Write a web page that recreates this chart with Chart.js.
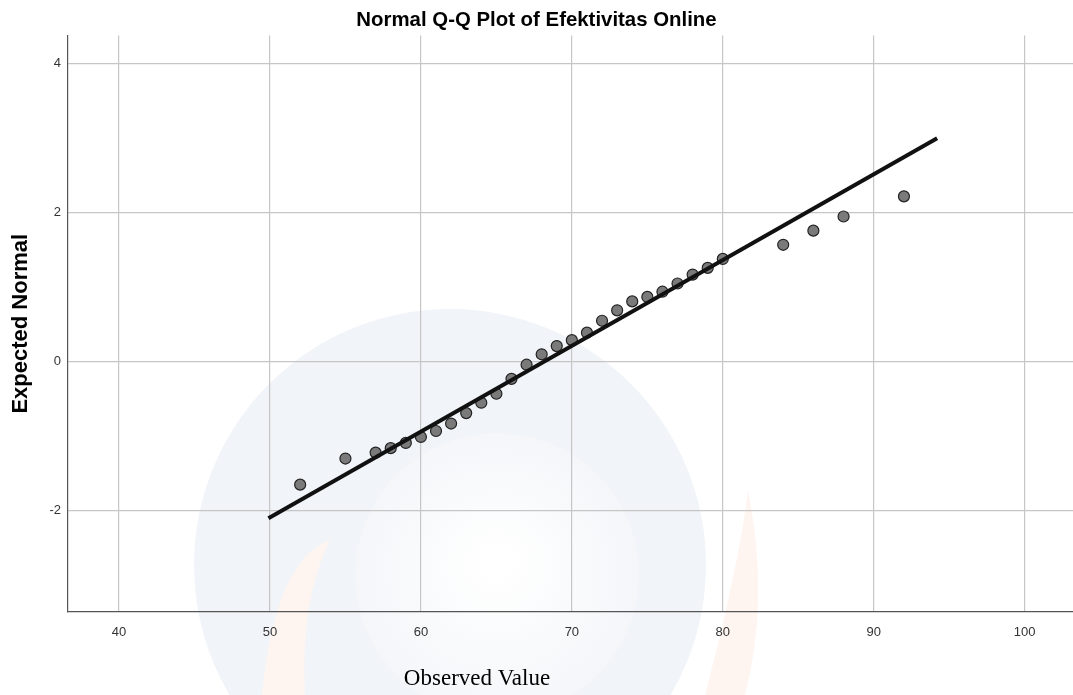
<!DOCTYPE html>
<html>
<head>
<meta charset="utf-8">
<script src="https://cdn.jsdelivr.net/npm/chart.js@4"></script>
<style>
  html, body { margin: 0; padding: 0; background: #fff; }
  #wrap { width: 1073px; height: 695px; }
</style>
</head>
<body>
<div id="wrap"><canvas id="qq" width="1073" height="695"></canvas></div>
<script>
// observed scores and their expected normal values
const observed = [52, 55, 57, 58, 59, 60, 61, 62, 63, 64, 65, 66, 67, 68, 69, 70,
  71, 72, 73, 74, 75, 76, 77, 78, 79, 80, 84, 86, 88, 92];
const expected = [-1.65, -1.30, -1.22, -1.16, -1.09, -1.01, -0.93, -0.83, -0.69, -0.55,
  -0.43, -0.23, -0.04, 0.10, 0.21, 0.29, 0.39, 0.55, 0.69, 0.81, 0.87, 0.94, 1.05,
  1.17, 1.26, 1.38, 1.57, 1.76, 1.95, 2.22];

// reference line end points
const lineX = [49.9, 94.2];
const lineY = [-2.1, 3.0];

const xTicks = [40, 50, 60, 70, 80, 90, 100];
const yTicks = [-2, 0, 2, 4];

const pts = observed.map((v, i) => ({ x: v, y: expected[i] }));
const linePts = lineX.map((v, i) => ({ x: v, y: lineY[i] }));

// faint logo in the background of the original image
const watermark = {
  id: "watermark",
  beforeDraw(chart) {
    const c = chart.ctx;
    c.save();
    c.fillStyle = "#f1f4f8";
    c.beginPath();
    c.arc(450, 565, 256, 0, Math.PI * 2);
    c.fill();
    const g = c.createRadialGradient(497, 560, 10, 497, 575, 145);
    g.addColorStop(0, "#ffffff");
    g.addColorStop(1, "#f4f6f9");
    c.fillStyle = g;
    c.beginPath();
    c.arc(497, 575, 142, 0, Math.PI * 2);
    c.fill();
    c.fillStyle = "#fef5f0";
    c.beginPath();
    c.moveTo(262, 695);
    c.quadraticCurveTo(275, 560, 330, 540);
    c.quadraticCurveTo(300, 600, 305, 695);
    c.fill();
    c.beginPath();
    c.moveTo(705, 695);
    c.quadraticCurveTo(740, 560, 748, 490);
    c.quadraticCurveTo(770, 600, 745, 695);
    c.fill();
    c.restore();
  }
};

const xTitle = {
  id: "xTitle",
  afterDraw(chart) {
    const c = chart.ctx;
    c.save();
    c.font = "23px 'Liberation Serif', 'Times New Roman', serif";
    c.fillStyle = "#000";
    c.textAlign = "center";
    c.textBaseline = "middle";
    c.fillText("Observed Value", 477, 679);
    c.restore();
  }
};

new Chart(document.getElementById("qq"), {
  type: "scatter",
  data: {
    datasets: [
      {
        label: "Line",
        type: "line",
        data: linePts,
        borderColor: "#111",
        borderWidth: 4,
        pointRadius: 0,
        fill: false,
        order: 0,
      },
      {
        label: "Efektivitas Online",
        data: pts,
        backgroundColor: "#7a7a7a",
        borderColor: "#222",
        borderWidth: 1.2,
        pointRadius: 5.5,
        order: 1,
      },
    ],
  },
  options: {
    responsive: false,
    animation: false,
    layout: { padding: 0, autoPadding: false },
    plugins: {
      legend: { display: false },
      tooltip: { enabled: false },
      title: {
        display: true,
        text: "Normal Q-Q Plot of Efektivitas Online",
        color: "#000",
        font: { family: "'Liberation Sans', Arial, sans-serif", size: 20.4, weight: "bold" },
        padding: { top: 8, bottom: 3 },
      },
    },
    scales: {
      x: {
        type: "linear",
        min: 36.62,
        max: 103.2,
        afterBuildTicks(scale) {
          scale.ticks = xTicks.map(v => ({ value: v }));
        },
        afterFit(scale) {
          scale.height = 83;
          scale.paddingLeft = 0;
          scale.paddingRight = 0;
        },
        grid: { color: "#c6c6c6", lineWidth: 1.2, drawTicks: false },
        border: { color: "#555", width: 1.2 },
        ticks: {
          color: "#333",
          padding: 13,
          font: { family: "'Liberation Sans', Arial, sans-serif", size: 13 },
        },
      },
      y: {
        type: "linear",
        min: -3.36,
        max: 4.38,
        afterBuildTicks(scale) {
          scale.ticks = yTicks.map(v => ({ value: v }));
        },
        afterFit(scale) {
          scale.width = 68;
          scale.paddingTop = 0;
          scale.paddingBottom = 0;
        },
        grid: { color: "#c6c6c6", lineWidth: 1.2, drawTicks: false },
        border: { color: "#555", width: 1.2 },
        ticks: {
          color: "#333",
          padding: 7,
          font: { family: "'Liberation Sans', Arial, sans-serif", size: 13 },
        },
        title: {
          display: true,
          text: "Expected Normal",
          color: "#000",
          font: { family: "'Liberation Sans', Arial, sans-serif", size: 22, weight: "bold" },
          padding: { top: 8 },
        },
      },
    },
  },
  plugins: [watermark, xTitle],
});
</script>
</body>
</html>
